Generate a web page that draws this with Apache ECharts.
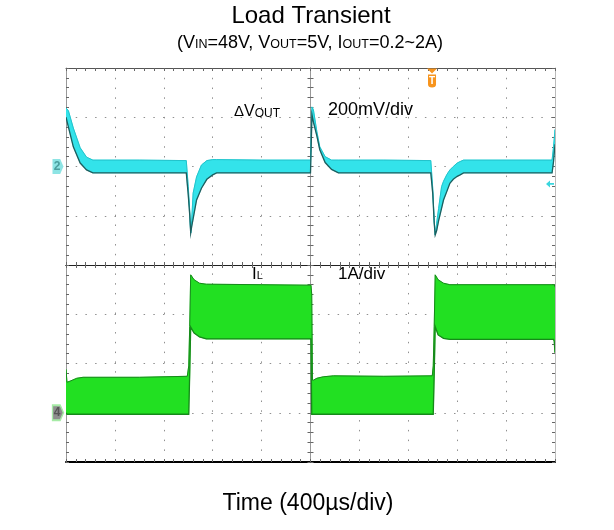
<!DOCTYPE html>
<html>
<head>
<meta charset="utf-8">
<style>html,body{margin:0;padding:0;background:#fff}#c{width:614px;height:530px}</style>
<script src="https://cdn.jsdelivr.net/npm/echarts@6/dist/echarts.min.js"></script>
</head>
<body>
<div id="c"></div>
<script>
// ---- Data (time in divisions, -5..5; amplitude in divisions, -4..4) ----
// Channel 2: ΔVOUT (200mV/div), ripple band envelope
const V_T  = [-5.00,-4.95,-4.85,-4.71,-4.58,-4.45,-3.50,-2.54,-2.50,-2.47,-2.45,-2.43,-2.40,-2.33,-2.23,-2.12,-2.00,-1.92,-1.00,0.00,0.03,0.06,0.13,0.19,0.30,0.43,0.57,1.50,2.46,2.50,2.53,2.55,2.58,2.62,2.68,2.72,2.79,2.85,2.92,3.00,3.06,3.13,4.00,4.94,4.97,5.00];
const V_UP = [3.19,3.13,2.78,2.38,2.19,2.13,2.13,2.12,1.59,1.10,0.65,0.91,1.46,1.79,2.03,2.12,2.14,2.14,2.13,2.13,3.21,3.15,2.71,2.40,2.20,2.13,2.13,2.13,2.12,1.55,0.90,0.61,0.85,1.15,1.59,1.70,1.84,1.93,2.00,2.07,2.10,2.13,2.13,2.13,2.40,2.75];
const V_LO = [3.00,2.80,2.40,2.07,1.93,1.87,1.87,1.87,1.42,1.02,0.65,0.78,0.94,1.32,1.56,1.74,1.83,1.87,1.87,1.87,3.05,2.90,2.62,2.34,2.08,1.94,1.87,1.87,1.87,1.45,0.85,0.61,0.70,0.90,1.15,1.32,1.50,1.66,1.74,1.80,1.83,1.87,1.87,1.87,2.10,2.45];
// Channel 4: IL (1A/div), ripple band envelope
const I_T  = [-5.00,-4.98,-4.92,-4.78,-4.65,-3.50,-2.52,-2.49,-2.47,-2.45,-2.38,-2.27,-2.13,-1.00,0.010,0.025,0.040,0.057,0.13,0.26,0.47,1.50,2.49,2.51,2.53,2.55,2.61,2.72,2.85,4.00,4.97,4.985,5.00];
const I_UP = [-2.12,-2.38,-2.36,-2.30,-2.28,-2.28,-2.26,-2.05,-1.25,-0.20,-0.30,-0.37,-0.39,-0.40,-0.41,-0.60,-2.34,-2.34,-2.30,-2.27,-2.25,-2.26,-2.25,-2.05,-1.25,-0.20,-0.30,-0.37,-0.40,-0.40,-0.40,-0.40,-0.45];
const I_LO = [-3.00,-3.03,-3.03,-3.03,-3.03,-3.03,-3.03,-3.03,-2.20,-1.26,-1.38,-1.46,-1.50,-1.50,-1.50,-3.03,-3.03,-3.03,-3.03,-3.03,-3.03,-3.03,-3.03,-3.03,-2.20,-1.25,-1.42,-1.49,-1.51,-1.51,-1.51,-1.55,-1.78];
// Markers
const CH2_REF = [[-5, 2]];
const CH4_REF = [[-5, -3]];
const TRIG_POS = [[2.485, 4]];
const TRIG_LEVEL = [[5, 1.645]];
const X_RANGE = [-5, 5];
const Y_RANGE = [-4, 4];

const FONT = "'Liberation Sans', Arial, Helvetica, sans-serif";

function band(T, UP, LO, fill, upStroke, loStroke) {
  return function (params, api) {
    if (params.dataIndex !== 0) return null;
    const up = T.map((t, i) => api.coord([t, UP[i]]));
    const lo = T.map((t, i) => api.coord([t, LO[i]]));
    const poly = up.concat(lo.slice().reverse());
    return {
      type: 'group',
      children: [
        { type: 'polygon', shape: { points: poly }, style: { fill: fill, stroke: fill, lineWidth: 0.6 } },
        { type: 'polyline', shape: { points: up }, style: { stroke: upStroke, lineWidth: 1, fill: null } },
        { type: 'polyline', shape: { points: lo }, style: { stroke: loStroke, lineWidth: 1.3, fill: null } }
      ]
    };
  };
}

function xAx(position, onZero, idx, lineColor, lineWidth, split) {
  return {
    type: 'value', min: X_RANGE[0], max: X_RANGE[1], interval: 1, position: position,
    axisLine: { show: true, onZero: onZero, onZeroAxisIndex: idx, lineStyle: { color: lineColor, width: lineWidth } },
    axisTick: { show: true, inside: true, length: 3, lineStyle: { color: '#666' } },
    minorTick: { show: true, splitNumber: 5, length: 3, lineStyle: { color: '#666' } },
    axisLabel: { show: false },
    splitLine: { show: split, lineStyle: { color: '#909090', width: 1, type: [1.5, 8.28] } }
  };
}
function yAx(position, onZero, idx, lineColor, lineWidth, split) {
  return {
    type: 'value', min: Y_RANGE[0], max: Y_RANGE[1], interval: 1, position: position,
    axisLine: { show: true, onZero: onZero, onZeroAxisIndex: idx, lineStyle: { color: lineColor, width: lineWidth } },
    axisTick: { show: true, inside: true, length: 3, lineStyle: { color: '#666' } },
    minorTick: { show: true, splitNumber: 5, length: 3, lineStyle: { color: '#666' } },
    axisLabel: { show: false },
    splitLine: { show: split, lineStyle: { color: '#909090', width: 1, type: [1.5, 8.2] } }
  };
}

const chart = echarts.init(document.getElementById('c'), null, { renderer: 'canvas' });
chart.setOption({
  animation: false,
  backgroundColor: '#fff',
  grid: { left: 66, top: 68, width: 489, height: 394, show: false },
  xAxis: [
    xAx('bottom', true, 0, '#222', 1.2, true),
    xAx('top', true, 1, '#222', 1.2, false),
    xAx('bottom', false, 0, '#000', 2, false),
    xAx('top', false, 0, '#555', 1, false)
  ],
  yAxis: [
    yAx('left', true, 0, '#999', 1, true),
    yAx('right', true, 1, '#999', 1, false),
    yAx('left', false, 0, '#999', 1, false),
    yAx('right', false, 0, '#bbb', 1, false)
  ],
  series: [
    {
      type: 'custom', name: 'ΔVOUT', clip: true,
      renderItem: band(V_T, V_UP, V_LO, '#33e3ea', '#22c3cb', '#1d5e5e'),
      data: V_T.map((t, i) => [t, V_UP[i], V_LO[i]]),
      encode: { x: 0, y: [1, 2] }, z: 3
    },
    {
      type: 'custom', name: 'IL', clip: true,
      renderItem: band(I_T, I_UP, I_LO, '#22e022', '#16891a', '#16891a'),
      data: I_T.map((t, i) => [t, I_UP[i], I_LO[i]]),
      encode: { x: 0, y: [1, 2] }, z: 3
    },
    {
      type: 'scatter', data: CH2_REF, z: 5, silent: true,
      symbol: 'path://M0,0 L7,0 L10,7 L7,14 L0,14 Z', symbolSize: [11, 15], symbolOffset: [-8, 0],
      itemStyle: { color: '#8de4e4', opacity: 1 },
      label: { show: true, position: 'inside', formatter: '2', color: '#4a9e9e', fontSize: 12, fontWeight: 'bold', fontFamily: FONT, offset: [-1, 0] }
    },
    {
      type: 'scatter', data: CH4_REF, z: 5, silent: true,
      symbol: 'path://M0,0 L7,0 L10,7 L7,14 L0,14 Z', symbolSize: [11, 15], symbolOffset: [-8, 0],
      itemStyle: { color: '#8e8e8e', borderColor: '#a6eba6', borderWidth: 1.5, opacity: 1 },
      label: { show: true, position: 'inside', formatter: '4', color: '#555', fontSize: 12, fontWeight: 'bold', fontFamily: FONT, offset: [-1, 0] }
    },
    {
      type: 'scatter', data: TRIG_POS, z: 5, silent: true,
      symbol: 'path://M0,0 L10,0 L5,5 Z M1,6 L9,6 L9,16 Q9,19 5,19 Q1,19 1,16 Z', symbolSize: [10, 19], symbolOffset: [0, 10],
      itemStyle: { color: '#f7941d', opacity: 1 },
      label: { show: true, position: 'inside', formatter: 'T', color: '#fff', fontSize: 10, fontWeight: 'bold', fontFamily: FONT, offset: [0, 3] }
    },
    {
      type: 'scatter', data: TRIG_LEVEL, z: 5, silent: true,
      symbol: 'path://M0,4 L5,0 L5,3 L10,3 L10,5 L5,5 L5,8 Z', symbolSize: [8, 7], symbolOffset: [-5, 0],
      itemStyle: { color: '#3ad6de', opacity: 1 }
    }
  ],
  graphic: [
    { type: 'text', z: 10, style: { text: 'Load Transient', x: 311, y: 16, font: '24px ' + FONT, fill: '#000', align: 'center', verticalAlign: 'middle' } },
    { type: 'text', z: 10, style: {
        text: '{n|(V}{s|IN}{n|=48V, V}{s|OUT}{n|=5V, I}{s|OUT}{n|=0.2~2A)}',
        x: 310, y: 43, align: 'center', verticalAlign: 'middle', fill: '#000',
        rich: {
          n: { fontSize: 18, fontFamily: FONT, fill: '#000' },
          s: { fontSize: 12.5, fontFamily: FONT, fill: '#000', padding: [3.8, 0, 0, 0] }
        } } },
    { type: 'text', z: 10, style: { text: 'Time (400µs/div)', x: 308, y: 504, font: '23px ' + FONT, fill: '#000', align: 'center', verticalAlign: 'middle' } },
    { type: 'text', z: 10, style: {
        text: '{a|Δ}{b|V}{c|OUT}', x: 234, y: 112, align: 'left', verticalAlign: 'middle', fill: '#000',
        rich: {
          a: { fontSize: 15, fontFamily: FONT, fill: '#000', padding: [0.7, 0, 0, 0] },
          b: { fontSize: 16, fontFamily: FONT, fill: '#000' },
          c: { fontSize: 12, fontFamily: FONT, fill: '#000', padding: [2.8, 0, 0, 0] }
        } } },
    { type: 'text', z: 10, style: { text: '200mV/div', x: 328, y: 110, font: '18px ' + FONT, fill: '#000', align: 'left', verticalAlign: 'middle' } },
    { type: 'text', z: 10, style: {
        text: '{b|I}{c|L}', x: 252, y: 274, align: 'left', verticalAlign: 'middle', fill: '#000',
        rich: {
          b: { fontSize: 17, fontFamily: FONT, fill: '#000' },
          c: { fontSize: 11, fontFamily: FONT, fill: '#000', padding: [4.2, 0, 0, 0] }
        } } },
    { type: 'text', z: 10, style: { text: '1A/div', x: 338, y: 274, font: '17px ' + FONT, fill: '#000', align: 'left', verticalAlign: 'middle' } }
  ]
});
</script>
</body>
</html>
